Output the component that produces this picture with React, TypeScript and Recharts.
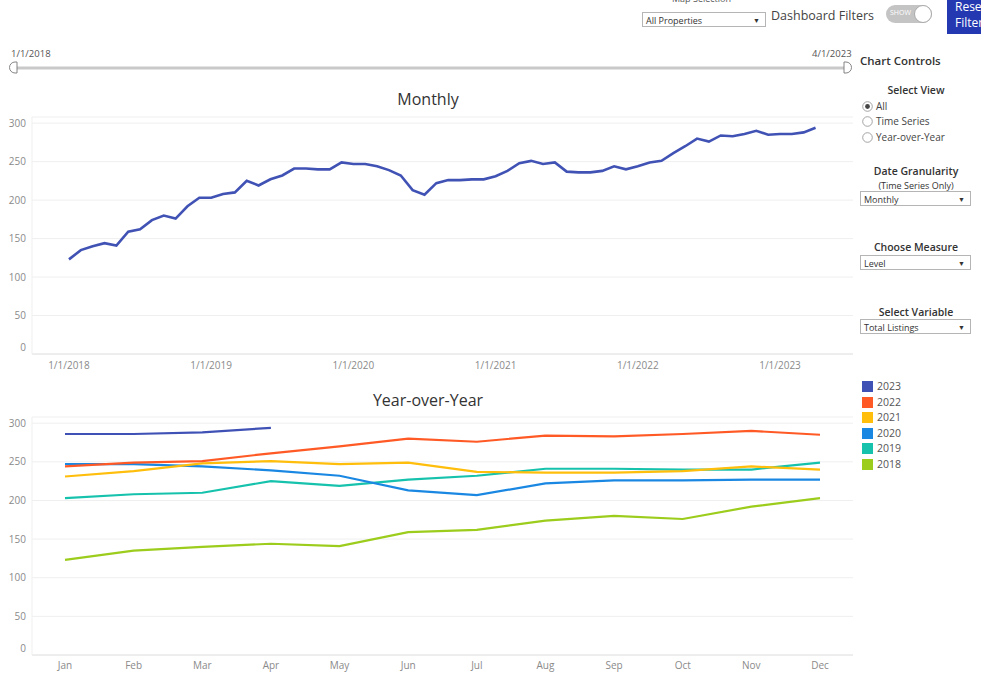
import React from "react";
import {
  CartesianGrid,
  Line,
  LineChart,
  XAxis,
  YAxis,
} from "recharts";

// values per year, Jan..Dec (2023 runs through Apr)
const y2018 = [123, 135, 140, 144, 141, 159, 162, 174, 180, 176, 192, 203];
const y2019 = [203, 208, 210, 225, 219, 227, 232, 241, 241, 240, 240, 249];
const y2020 = [247, 247, 244, 239, 232, 213, 207, 222, 226, 226, 227, 227];
const y2021 = [231, 238, 248, 251, 247, 249, 237, 236, 236, 238, 244, 240];
const y2022 = [244, 249, 251, 261, 270, 280, 276, 284, 283, 286, 290, 285];
const y2023 = [286, 286, 288, 294];

const months = ["Jan", "Feb", "Mar", "Apr", "May", "Jun", "Jul", "Aug", "Sep", "Oct", "Nov", "Dec"];
const yearTicks = [0, 12, 24, 36, 48, 60];
const valueTicks = [0, 50, 100, 150, 200, 250, 300];

const years = [
  { key: "2023", values: y2023, color: "#3f51b5" },
  { key: "2022", values: y2022, color: "#ff5a26" },
  { key: "2021", values: y2021, color: "#ffbe0b" },
  { key: "2020", values: y2020, color: "#1a88e3" },
  { key: "2019", values: y2019, color: "#17c2ad" },
  { key: "2018", values: y2018, color: "#9ccc1c" },
];

const monthlyData = [...y2018, ...y2019, ...y2020, ...y2021, ...y2022, ...y2023].map(
  (v, i) => ({ i, v })
);

const yoyData = months.map((m, idx) => {
  const row: Record<string, any> = { month: m };
  years.forEach((y) => {
    row[y.key] = idx < y.values.length ? y.values[idx] : null;
  });
  return row;
});

const font = "'Open Sans', sans-serif";
const axisColor = "#8a8a8a";

const YTick = (props: any) => {
  const { x, y, payload } = props;
  return (
    <text
      x={x}
      y={y}
      dy={payload.value === 0 ? -3.5 : 3.5}
      textAnchor="end"
      fill={axisColor}
      fontSize={10}
      fontFamily={font}
    >
      {payload.value}
    </text>
  );
};

const Dropdown = ({ left, top, width, label }: any) => (
  <div
    style={{
      position: "absolute",
      left,
      top,
      width,
      height: 15,
      border: "1px solid #b5b5b5",
      background: "#fff",
      fontSize: 9,
      lineHeight: "15px",
      color: "#333",
      paddingLeft: 3,
      boxSizing: "border-box",
    }}
  >
    {label}
    <span style={{ position: "absolute", right: 5, top: 0, fontSize: 7 }}>▼</span>
  </div>
);

const Radio = ({ top, label, on }: any) => (
  <div style={{ position: "absolute", left: 862, top, fontSize: 10, color: "#444", lineHeight: "12px" }}>
    <svg width={11} height={11} style={{ position: "absolute", left: 0, top: 1 }}>
      <circle cx={5.5} cy={5.5} r={4.8} fill="#fff" stroke="#9a9a9a" strokeWidth={0.9} />
      {on && <circle cx={5.5} cy={5.5} r={2.4} fill="#444" />}
    </svg>
    <span style={{ marginLeft: 14 }}>{label}</span>
  </div>
);

const Center = ({ top, text, size = 10.5, weight = 600 }: any) => (
  <div
    style={{
      position: "absolute",
      left: 856,
      width: 120,
      top,
      textAlign: "center",
      fontSize: size,
      fontWeight: weight,
      color: "#333",
      lineHeight: "14px",
    }}
  >
    {text}
  </div>
);

export default function App() {
  return (
    <div
      style={{
        position: "absolute",
        left: 0,
        top: 0,
        width: 981,
        height: 675,
        overflow: "hidden",
        background: "#fff",
        fontFamily: font,
      }}
    >
      {/* top filter bar */}
      <div style={{ position: "absolute", left: 672, top: -8, fontSize: 9, color: "#555" }}>
        Map Selection
      </div>
      <Dropdown left={642} top={12} width={124} label="All Properties" />
      <div style={{ position: "absolute", left: 771, top: 7, fontSize: 12.5, color: "#444" }}>
        Dashboard Filters
      </div>
      <div
        style={{
          position: "absolute",
          left: 886,
          top: 5,
          width: 46,
          height: 18,
          borderRadius: 9,
          background: "#c4c4c4",
        }}
      >
        <span style={{ position: "absolute", left: 4, top: 3, fontSize: 7, color: "#fff" }}>SHOW</span>
        <div
          style={{
            position: "absolute",
            right: 0,
            top: 0,
            width: 18,
            height: 18,
            borderRadius: 9,
            background: "#fff",
            border: "1px solid #aaa",
            boxSizing: "border-box",
          }}
        />
      </div>
      <div
        style={{
          position: "absolute",
          left: 947,
          top: -2,
          width: 60,
          height: 36,
          background: "#2438b2",
          color: "#fff",
          fontSize: 12,
          lineHeight: "16px",
          paddingLeft: 8,
          paddingTop: 1,
          boxSizing: "border-box",
        }}
      >
        Reset
        <br />
        Filters
      </div>

      {/* date slider */}
      <div style={{ position: "absolute", left: 11, top: 47, fontSize: 9.5, color: "#555" }}>1/1/2018</div>
      <div style={{ position: "absolute", left: 812, top: 47, fontSize: 9.5, color: "#555" }}>4/1/2023</div>
      <svg width={860} height={20} style={{ position: "absolute", left: 0, top: 58 }}>
        <rect x={16} y={8.5} width={830} height={3} fill="#c9c9c9" />
        <path d="M17 4 L15 4 A5.5 5.5 0 0 0 15 15 L17 15 Z" fill="#fff" stroke="#777" strokeWidth={0.9} />
        <path d="M844 4 L846 4 A5.5 5.5 0 0 1 846 15 L844 15 Z" fill="#fff" stroke="#777" strokeWidth={0.9} />
      </svg>

      {/* chart controls */}
      <div style={{ position: "absolute", left: 860, top: 53, fontSize: 11.5, fontWeight: 600, color: "#333" }}>
        Chart Controls
      </div>
      <Center top={83} text="Select View" />
      <Radio top={100} label="All" on />
      <Radio top={115} label="Time Series" />
      <Radio top={131} label="Year-over-Year" />
      <Center top={164} text="Date Granularity" />
      <Center top={179} text="(Time Series Only)" size={9} weight={500} />
      <Dropdown left={860} top={191} width={111} label="Monthly" />
      <Center top={240} text="Choose Measure" />
      <Dropdown left={860} top={255} width={111} label="Level" />
      <Center top={305} text="Select Variable" />
      <Dropdown left={860} top={319} width={111} label="Total Listings" />

      {/* legend */}
      {years.map((y, k) => (
        <div
          key={y.key}
          style={{ position: "absolute", left: 862, top: 381 + k * 15.5, height: 12, fontSize: 10.5, color: "#555" }}
        >
          <div style={{ position: "absolute", left: 0, top: 0, width: 11, height: 11, background: y.color }} />
          <span style={{ position: "absolute", left: 15, top: -2 }}>{y.key}</span>
        </div>
      ))}

      {/* titles */}
      <div style={{ position: "absolute", left: 0, width: 856, top: 88, textAlign: "center", fontSize: 16, color: "#333" }}>
        Monthly
      </div>
      <div style={{ position: "absolute", left: 0, width: 856, top: 389, textAlign: "center", fontSize: 16, color: "#333" }}>
        Year-over-Year
      </div>

      {/* monthly series */}
      <div style={{ position: "absolute", left: 0, top: 110 }}>
        <LineChart width={853} height={264} data={monthlyData} margin={{ top: 7, right: 0, bottom: 0, left: 0 }}>
          <CartesianGrid vertical={false} stroke="#efefef" />
          <XAxis
            dataKey="i"
            type="number"
            domain={[-3.12, 66.16]}
            ticks={yearTicks}
            tickFormatter={(i: number) => `1/1/${2018 + i / 12}`}
            height={20}
            stroke="#e4e4e4"
            tickLine={false}
            tick={{ fill: axisColor, fontSize: 10, fontFamily: font }}
            allowDataOverflow
          />
          <YAxis
            domain={[0, 308]}
            ticks={valueTicks}
            width={32}
            tickSize={4}
            tickLine={false}
            stroke="#efefef"
            tick={<YTick />}
            allowDataOverflow
          />
          <Line
            dataKey="v"
            type="linear"
            stroke="#4152b5"
            strokeWidth={2.6}
            dot={false}
            isAnimationActive={false}
          />
        </LineChart>
      </div>

      {/* year over year */}
      <div style={{ position: "absolute", left: 0, top: 410 }}>
        <LineChart width={853} height={265} data={yoyData} margin={{ top: 7, right: 0, bottom: 0, left: 0 }}>
          <CartesianGrid vertical={false} stroke="#efefef" />
          <XAxis
            dataKey="month"
            height={20}
            padding={{ left: 33, right: 33 }}
            stroke="#e4e4e4"
            tickLine={false}
            tickMargin={1}
            tick={{ fill: axisColor, fontSize: 10, fontFamily: font }}
            interval={0}
          />
          <YAxis
            domain={[0, 308]}
            ticks={valueTicks}
            width={32}
            tickSize={4}
            tickLine={false}
            stroke="#efefef"
            tick={<YTick />}
            allowDataOverflow
          />
          {[...years].reverse().map((y) => (
            <Line
              key={y.key}
              dataKey={y.key}
              type="linear"
              stroke={y.color}
              strokeWidth={2.2}
              dot={false}
              connectNulls={false}
              isAnimationActive={false}
            />
          ))}
        </LineChart>
      </div>
    </div>
  );
}
